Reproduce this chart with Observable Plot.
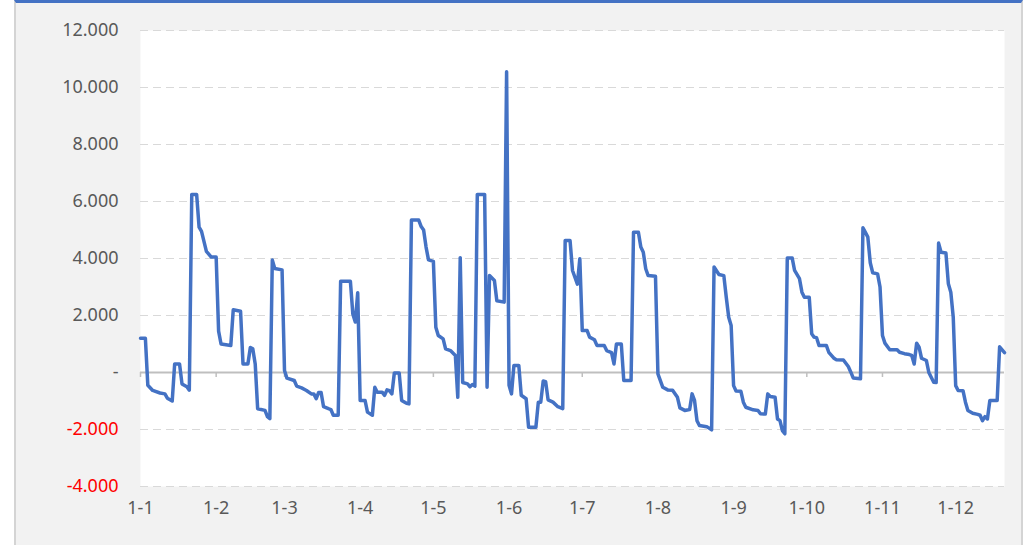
<!DOCTYPE html>
<html><head><meta charset="utf-8">
<script src="https://cdn.jsdelivr.net/npm/d3@7"></script>
<script src="https://cdn.jsdelivr.net/npm/@observablehq/plot@0.6"></script>
<style>
html,body{margin:0;padding:0;background:#fff;}
#panel{position:absolute;left:14px;top:0;width:1009px;height:545px;background:#f2f2f2;border-left:2px solid #d4d4d4;border-right:2px solid #d4d4d4;border-top:3px solid #4472c4;box-sizing:border-box;}
#chart{position:absolute;left:0;top:0;}
</style></head><body><div id="panel"></div><div id="chart"></div>
<script>
// day offsets from 1 Jan (vertices of the line) and their values
const dayOffsets = [0,2,3,5,8,10,11,13,14,16,17,19,20,21,23,24,25,27,29,31,32,33,37,38,41,42,44,45,46,47,48,51,52,53,54,55,58,59,60,63,64,66,68,70,71,72,73,74,75,77,78,79,81,82,86,87,88,89,90,92,93,95,96,97,99,100,101,102,103,104,106,107,109,110,111,114,115,116,117,118,120,121,122,124,125,127,129,130,131,132,134,135,136,137,138,141,142,143,145,146,149,150,151,152,153,155,156,158,159,162,163,164,165,166,167,169,171,173,174,176,177,179,180,181,183,184,186,187,190,191,193,194,195,197,198,201,202,204,205,206,207,208,211,212,214,216,218,220,221,223,225,226,227,228,229,232,234,235,237,239,240,241,242,243,244,246,247,248,251,253,254,256,257,258,260,261,262,263,264,265,267,268,270,271,272,274,275,276,277,278,281,282,284,285,288,290,291,292,295,296,297,298,299,300,302,303,304,305,307,310,311,313,315,316,317,318,319,320,322,323,325,326,327,328,330,331,332,333,334,335,337,338,339,341,343,344,345,346,347,348,351,352,354];
const values = [1200,1200,-450,-630,-720,-750,-900,-1000,300,300,-400,-500,-620,6250,6250,5100,4950,4250,4050,4050,1450,1000,950,2200,2150,300,300,880,830,300,-1270,-1330,-1550,-1620,3950,3650,3600,70,-200,-280,-480,-540,-630,-750,-750,-920,-700,-700,-1200,-1270,-1300,-1500,-1500,3200,3200,2050,1770,2800,-980,-980,-1390,-1500,-520,-690,-690,-800,-610,-640,-750,-20,-20,-980,-1080,-1100,5350,5350,5120,5000,4400,3950,3900,1590,1300,1180,830,770,600,-870,4030,-350,-400,-500,-420,-480,6250,6250,-520,3400,3230,2520,2470,10550,-450,-750,250,250,-800,-920,-1920,-1920,-1040,-1040,-300,-320,-960,-1040,-1200,-1270,4630,4630,3580,3100,3990,1470,1470,1240,1150,950,950,770,700,300,1000,1000,-280,-280,4920,4920,4400,4220,3640,3400,3380,-50,-520,-610,-620,-870,-1240,-1330,-1300,-750,-980,-1690,-1860,-1900,-2010,3700,3440,3400,2640,1940,1650,-460,-650,-660,-1040,-1220,-1310,-1330,-1450,-1460,-750,-840,-870,-1630,-1690,-2040,-2150,4020,4020,3580,3290,2820,2640,2640,1360,1240,1220,950,950,710,510,450,440,210,20,-190,-220,5080,4920,4750,3850,3500,3460,3000,1300,1030,800,800,710,660,630,600,300,1030,890,500,420,0,-340,-350,4540,4220,4190,3110,2820,1940,-460,-630,-640,-1040,-1330,-1430,-1470,-1500,-1690,-1550,-1630,-980,-980,900,700];
const yTicks = [-4000,-2000,0,2000,4000,6000,8000,10000,12000];
const xTickLabels = ["1-1","1-2","1-3","1-4","1-5","1-6","1-7","1-8","1-9","1-10","1-11","1-12"];
const year = 2023;
const lastDay = 354;

const toDate = d => new Date(Date.UTC(year, 0, 1 + d));
const series = dayOffsets.map((d, i) => ({date: toDate(d), value: values[i]}));
const monthStarts = xTickLabels.map((_, m) => new Date(Date.UTC(year, m, 1)));
const fmtY = v => v === 0 ? "-" : d3.format(",")(v).replace(/,/g, ".").replace("−", "-");

const chart = Plot.plot({
  width: 1033, height: 545,
  marginLeft: 140, marginRight: 29, marginTop: 30, marginBottom: 59,
  style: {background: "transparent", fontFamily: "'Noto Sans', sans-serif", fontSize: "18px"},
  x: {type: "utc", domain: [toDate(0), toDate(lastDay)], axis: null},
  y: {domain: [-4000, 12000], axis: null},
  marks: [
    Plot.frame({fill: "white", stroke: "none"}),
    Plot.ruleY(yTicks.filter(v => v !== 0), {stroke: "#d9d9d9", strokeWidth: 1, strokeDasharray: "8,5"}),
    Plot.ruleY([0], {stroke: "#bfbfbf", strokeWidth: 2}),
    Plot.ruleX(monthStarts, {x: d => d, y1: 0, y2: 0, insetBottom: -5, stroke: "#bfbfbf", strokeWidth: 1.5}),
    Plot.line(series, {x: "date", y: "value", stroke: "#4472c4", strokeWidth: 3.5, strokeLinejoin: "round", strokeLinecap: "round"}),
    Plot.text(monthStarts, {x: d => d, frameAnchor: "bottom", dy: 27, text: d => xTickLabels[d.getUTCMonth()], fill: "#595959", fontSize: 18}),
    Plot.text(yTicks.filter(v => v >= 0), {y: d => d, frameAnchor: "left", textAnchor: "end", dx: -22, text: fmtY, fill: "#595959", fontSize: 18}),
    Plot.text(yTicks.filter(v => v < 0), {y: d => d, frameAnchor: "left", textAnchor: "end", dx: -22, text: fmtY, fill: "#ff0000", fontSize: 18})
  ]
});
document.getElementById("chart").appendChild(chart);
</script></body></html>
